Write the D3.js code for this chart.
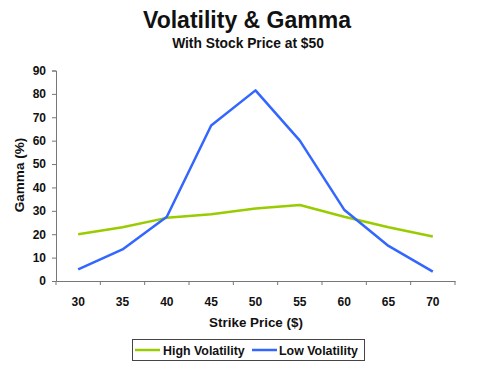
<!doctype html>
<html>
<head>
<meta charset="utf-8"/>
<title>Volatility & Gamma</title>
<script src="https://d3js.org/d3.v7.min.js"></script>
<style>
  body { margin: 0; background: #fff; }
  svg { font-family: Arial, "Liberation Sans", sans-serif; }
</style>
</head>
<body>
<div id="chart"></div>
<script>
// strike prices (category axis)
var strikes = ["30", "35", "40", "45", "50", "55", "60", "65", "70"];
// gamma (%)
var highVol = [20, 23, 27, 28.5, 31, 32.5, 27.5, 23, 19];
var lowVol = [5, 13.5, 27.5, 66.5, 81.5, 60, 30.5, 15, 4];
var yTicks = [0, 10, 20, 30, 40, 50, 60, 70, 80, 90];
var seriesNames = ["High Volatility", "Low Volatility"];
var seriesColors = ["#99cc00", "#3366ff"];

var W = 485, H = 388;
var svg = d3.select("#chart").append("svg")
    .attr("width", W)
    .attr("height", H);

var x = d3.scaleBand().domain(strikes).range([56, 455]);
var y = d3.scaleLinear().domain([0, 90]).range([281, 70.5]);

// titles
svg.append("text")
    .attr("x", 247).attr("y", 28)
    .attr("text-anchor", "middle")
    .attr("font-size", 23).attr("font-weight", "bold")
    .attr("fill", "#111")
    .text("Volatility & Gamma");
svg.append("text")
    .attr("x", 248).attr("y", 47.5)
    .attr("text-anchor", "middle")
    .attr("font-size", 13.8).attr("font-weight", "bold")
    .attr("fill", "#111")
    .text("With Stock Price at $50");

// y axis
var yAxis = svg.append("g")
    .attr("transform", "translate(56,0)")
    .call(d3.axisLeft(y).tickValues(yTicks).tickSize(4).tickPadding(6));
yAxis.select(".domain").attr("stroke", "#777");
yAxis.selectAll(".tick line").attr("stroke", "#777");
yAxis.selectAll("text").attr("font-size", 12).attr("font-weight", "bold")
    .attr("fill", "#111").attr("font-family", "Arial, 'Liberation Sans', sans-serif");

// x axis: labels in band centres, ticks between categories
var xAxis = svg.append("g")
    .attr("transform", "translate(0,281)")
    .call(d3.axisBottom(x).tickSize(0).tickPadding(16));
xAxis.select(".domain").attr("stroke", "#777");
xAxis.selectAll("text").attr("font-size", 12).attr("font-weight", "bold")
    .attr("fill", "#111").attr("font-family", "Arial, 'Liberation Sans', sans-serif");
var bounds = strikes.map(function(s) { return x(s); }).concat([x.range()[1]]);
svg.append("g").selectAll("line")
    .data(bounds)
    .enter().append("line")
    .attr("x1", function(d) { return d; })
    .attr("x2", function(d) { return d; })
    .attr("y1", 281).attr("y2", 285)
    .attr("stroke", "#777");

// axis titles
svg.append("text")
    .attr("transform", "translate(24,175) rotate(-90)")
    .attr("text-anchor", "middle")
    .attr("font-size", 13.5).attr("font-weight", "bold")
    .attr("fill", "#111")
    .text("Gamma (%)");
svg.append("text")
    .attr("x", 256).attr("y", 326.5)
    .attr("text-anchor", "middle")
    .attr("font-size", 13.4).attr("font-weight", "bold")
    .attr("fill", "#111")
    .text("Strike Price ($)");

// lines
var line = d3.line()
    .x(function(d, i) { return x(strikes[i]) + x.bandwidth() / 2; })
    .y(function(d) { return y(d); });

[highVol, lowVol].forEach(function(vals, k) {
  svg.append("path")
      .datum(vals)
      .attr("d", line)
      .attr("fill", "none")
      .attr("stroke", seriesColors[k])
      .attr("stroke-width", 2.5)
      .attr("stroke-linejoin", "round");
});

// legend
var lg = svg.append("g");
lg.append("rect")
    .attr("x", 132.5).attr("y", 339.5)
    .attr("width", 232).attr("height", 21)
    .attr("fill", "#fff")
    .attr("stroke", "#444");
var legendX = [[135, 160, 163], [252, 277, 279]];
seriesNames.forEach(function(name, k) {
  lg.append("line")
      .attr("x1", legendX[k][0]).attr("x2", legendX[k][1])
      .attr("y1", 350).attr("y2", 350)
      .attr("stroke", seriesColors[k])
      .attr("stroke-width", 2.5);
  lg.append("text")
      .attr("x", legendX[k][2]).attr("y", 354.5)
      .attr("font-size", 12.4).attr("font-weight", "bold")
      .attr("fill", "#111")
      .text(name);
});
</script>
</body>
</html>
